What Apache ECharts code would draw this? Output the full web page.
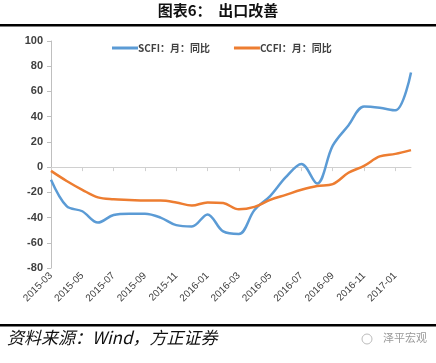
<!DOCTYPE html>
<html><head><meta charset="utf-8">
<script src="https://cdn.jsdelivr.net/npm/echarts@6/dist/echarts.min.js"></script>
<style>html,body{margin:0;padding:0;background:#fff}#c{width:436px;height:363px}</style>
</head><body><div id="c"></div>
<script>
var months = ['2015-03','2015-04','2015-05','2015-06','2015-07','2015-08','2015-09','2015-10','2015-11','2015-12','2016-01','2016-02','2016-03','2016-04','2016-05','2016-06','2016-07','2016-08','2016-09','2016-10','2016-11','2016-12','2017-01','2017-02'];
var scfi = [-10, -31, -35, -44, -38, -37, -37, -40, -46, -47, -37.5, -51, -53, -34, -23, -8, 2.5, -13, 17, 33, 48, 47, 45, 75];
var ccfi = [-3, -11, -18, -24, -25.5, -26, -26.5, -26.5, -28, -30.5, -28, -28.5, -33.5, -31.5, -26, -22, -18, -15, -13.5, -4.5, 1, 8.5, 10.5, 13.5];
var seriesNames = ['SCFI：月：同比', 'CCFI：月：同比'];
var yTicks = {min: -80, max: 100, interval: 20};
var titleText = '图表6：  出口改善';
var sourceText = '资料来源：Wind，方正证券';
var markText = '泽平宏观';

var chart = echarts.init(document.getElementById('c'), null, {renderer: 'canvas'});
var lblFont = {fontFamily: 'Liberation Sans', fontSize: 11, color: '#404040', fontWeight: 'bold'};
chart.setOption({
  animation: false,
  grid: {left: 51, right: 25, top: 41, bottom: 95},
  legend: {
    top: 38, left: 107, itemGap: 24, itemWidth: 26, itemHeight: 3, icon: 'rect',
    textStyle: {fontFamily: 'Noto Sans CJK SC', fontSize: 10, color: '#404040', fontWeight: 'bold', padding: [0,0,0,-5]},
    data: seriesNames
  },
  xAxis: [{
    type: 'category', data: months, boundaryGap: false,
    axisLine: {show: false, onZero: false},
    axisTick: {show: false},
    axisLabel: {interval: 1, rotate: 45, fontSize: 10, margin: 6, fontFamily: 'Liberation Sans', color: '#404040'},
    splitLine: {show: false}
  }, {
    type: 'category', data: months, boundaryGap: false, position: 'bottom',
    axisLine: {show: true, onZero: true, lineStyle: {color: '#d0d0d0', width: 1}},
    axisTick: {show: true, interval: 1, length: 4, inside: false, lineStyle: {color: '#d0d0d0'}},
    axisLabel: {show: false},
    splitLine: {show: false}
  }],
  yAxis: {
    type: 'value', min: yTicks.min, max: yTicks.max, interval: yTicks.interval,
    axisLine: {show: true, lineStyle: {color: '#bfbfbf'}},
    axisTick: {show: true, length: 4, lineStyle: {color: '#bfbfbf'}},
    axisLabel: Object.assign({margin: 8}, lblFont),
    splitLine: {show: false}
  },
  series: [{
    name: seriesNames[0], type: 'line', data: scfi, smooth: 0.35, symbol: 'none',
    lineStyle: {color: '#5B9BD5', width: 2.5}, itemStyle: {color: '#5B9BD5'}
  }, {
    name: seriesNames[1], type: 'line', data: ccfi, smooth: 0.35, symbol: 'none',
    lineStyle: {color: '#ED7D31', width: 2.5}, itemStyle: {color: '#ED7D31'}
  }],
  graphic: [
    {type: 'text', left: 'center', top: 3, style: {text: titleText, font: 'bold 15px "Noto Sans CJK SC"', fill: '#111'}},
    {type: 'rect', shape: {x: 0, y: 24, width: 436, height: 2.5}, style: {fill: '#000'}},
    {type: 'rect', shape: {x: 0, y: 324, width: 436, height: 2.5}, style: {fill: '#000'}},
    {type: 'text', left: 7, top: 329, style: {text: sourceText, font: 'italic 17px "Noto Sans CJK SC"', fill: '#111'}},
    {type: 'circle', shape: {cx: 367, cy: 339, r: 5}, style: {fill: 'none', stroke: '#bbb', lineWidth: 1}},
    {type: 'text', left: 383, top: 332, style: {text: markText, font: '11px "Noto Sans CJK SC"', fill: '#999'}}
  ]
});
</script></body></html>
